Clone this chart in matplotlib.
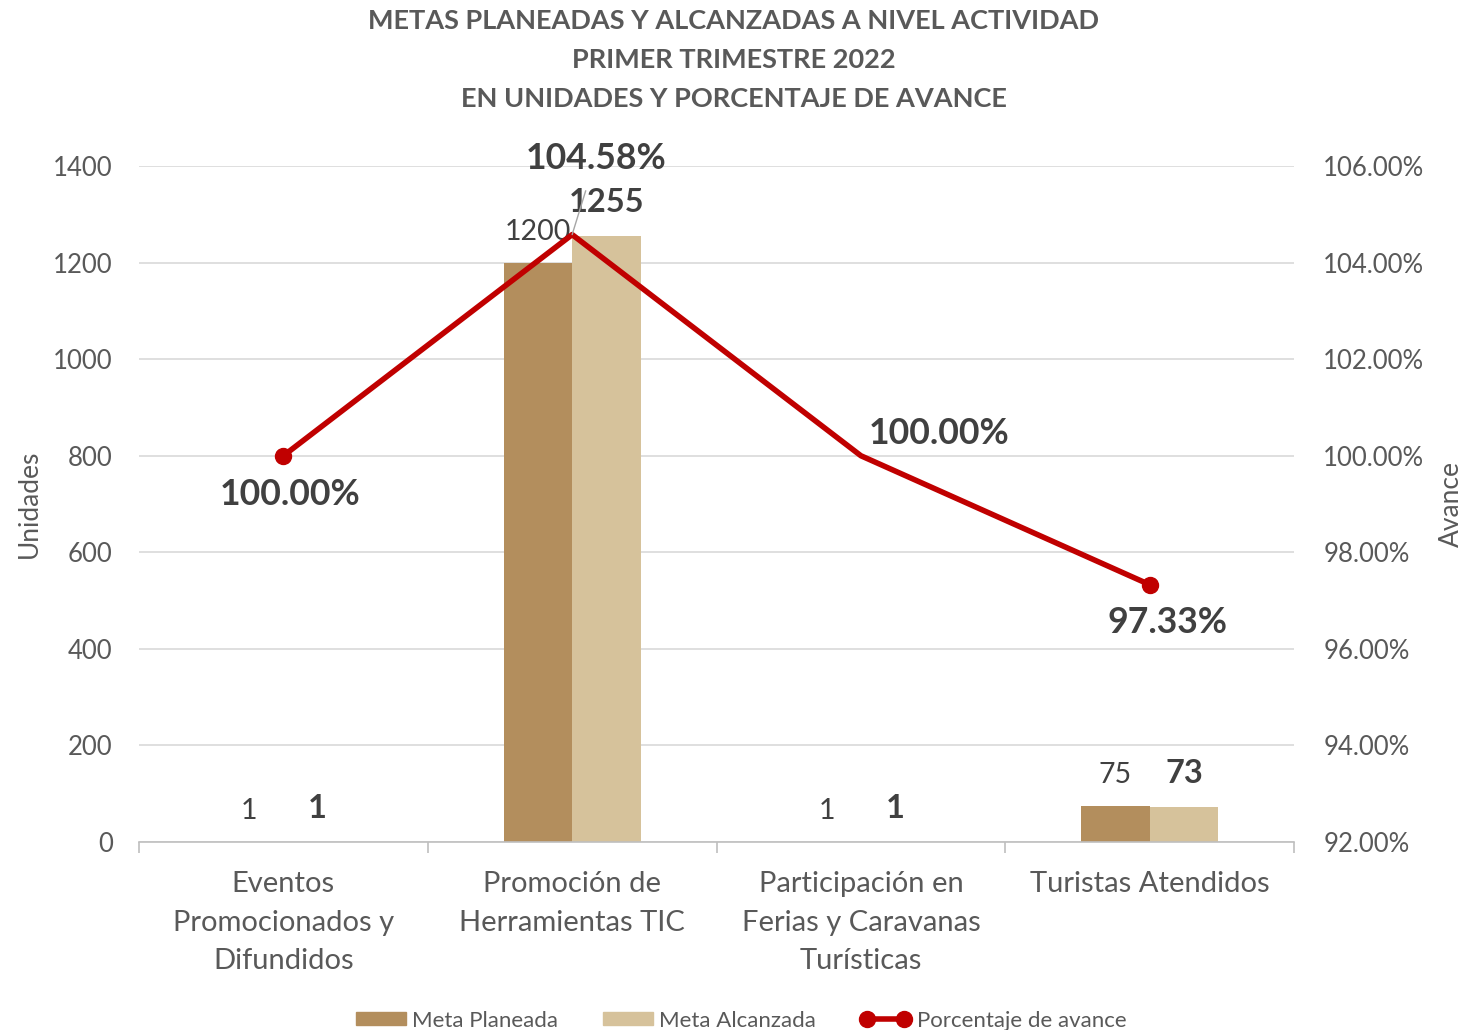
import matplotlib
matplotlib.use("Agg")
import matplotlib.pyplot as plt
import numpy as np
from matplotlib.patches import Patch
from matplotlib.lines import Line2D
from matplotlib.ticker import FuncFormatter

plt.rcParams['font.family'] = ['Lato', 'DejaVu Sans']

categorias = ['Eventos\nPromocionados y\nDifundidos', 'Promoción de\nHerramientas TIC',
              'Participación en\nFerias y Caravanas\nTurísticas', 'Turistas Atendidos']
meta_planeada = [1, 1200, 1, 75]
meta_alcanzada = [1, 1255, 1, 73]
avance = [100.00, 104.58, 100.00, 97.33]

c_plan = '#B38E5D'
c_alc = '#D6C29B'
c_red = '#C00000'
c_txt = '#595959'
c_lbl = '#404040'

fig = plt.figure(figsize=(14.68, 10.30), dpi=100)
ax = fig.add_axes([0.0947, 0.1825, 0.7868, 0.6563])
ax2 = ax.twinx()

x = np.arange(len(categorias))
w = 0.237
ax.bar(x - w / 2, meta_planeada, w, color=c_plan, zorder=2)
ax.bar(x + w / 2, meta_alcanzada, w, color=c_alc, zorder=2)

for i in range(len(x)):
    ax.annotate(str(meta_planeada[i]), (x[i] - w / 2, meta_planeada[i]), xytext=(0, 22),
                textcoords='offset points', ha='center', va='center', fontsize=20.5, color=c_lbl)
    ax.annotate(str(meta_alcanzada[i]), (x[i] + w / 2, meta_alcanzada[i]), xytext=(0, 24),
                textcoords='offset points', ha='center', va='center', fontsize=23.5,
                fontweight='bold', color=c_lbl)

ax.set_xlim(-0.5, 3.5)
ax.set_ylim(0, 1400)
ax.set_yticks(np.arange(0, 1401, 200))
ax.grid(axis='y', color='#D9D9D9', lw=1.2, zorder=0)
ax.set_axisbelow(True)
ax.set_xticks(x)
ax.set_xticklabels(categorias, fontsize=21, color=c_txt, linespacing=1.6)
ax.set_xticks(np.arange(-0.5, 3.6, 1), minor=True)
ax.tick_params(axis='x', which='major', length=0, pad=21)
ax.tick_params(axis='x', which='minor', length=8, color='#BFBFBF', width=1.2)
ax.tick_params(axis='y', length=0, labelsize=18.5, labelcolor=c_txt, pad=19)
for s in ['top', 'left', 'right']:
    ax.spines[s].set_visible(False)
ax.spines['bottom'].set_color('#BFBFBF')
ax.spines['bottom'].set_linewidth(1.2)
ax.set_ylabel('Unidades', fontsize=19, color=c_txt)
ax.yaxis.set_label_coords(-0.084, 0.5)

ax2.plot(x, avance, color=c_red, lw=4, marker='o', markersize=11.5, markevery=[0, 3], zorder=3)
ax2.set_ylim(92, 106)
ax2.set_yticks(np.arange(92, 106.1, 2))
ax2.yaxis.set_major_formatter(FuncFormatter(lambda v, p: f'{v:.2f}%'))
ax2.tick_params(axis='y', length=0, labelsize=18.5, labelcolor=c_txt, pad=21)
for s in ['top', 'left', 'right', 'bottom']:
    ax2.spines[s].set_visible(False)
ax2.set_ylabel('Avance', fontsize=19, color=c_txt)
ax2.yaxis.set_label_coords(1.1255, 0.5)

offs = [(5, -28), (17, 55), (56, 16), (13, -27)]
for i in range(len(x)):
    kw = {}
    if i == 1:
        kw = dict(arrowprops=dict(arrowstyle='-', color='#A6A6A6', lw=1, shrinkA=10, shrinkB=0))
    ax2.annotate(f'{avance[i]:.2f}%', (x[i], avance[i]), xytext=offs[i], textcoords='offset points',
                 ha='center', va='center', fontsize=25.7, fontweight='bold', color=c_lbl, **kw)

fig.text(0.5, 0.991, 'METAS PLANEADAS Y ALCANZADAS A NIVEL ACTIVIDAD\nPRIMER TRIMESTRE 2022\nEN UNIDADES Y PORCENTAJE DE AVANCE',
         ha='center', va='top', fontsize=19.5, fontweight='bold', color=c_txt, linespacing=1.75)

handles = [Patch(color=c_plan, label='Meta Planeada'), Patch(color=c_alc, label='Meta Alcanzada'),
           Line2D([], [], color=c_red, lw=4, marker='o', markersize=11.5, label='Porcentaje de avance')]
leg = fig.legend(handles=handles, loc='lower center', bbox_to_anchor=(0.505, -0.02), ncol=3,
                 frameon=False, fontsize=16, handlelength=2.25, handleheight=0.55, columnspacing=2.0,
                 handletextpad=0.3, numpoints=2)
for t in leg.get_texts():
    t.set_color(c_txt)

fig.savefig('out.png', dpi=100)
